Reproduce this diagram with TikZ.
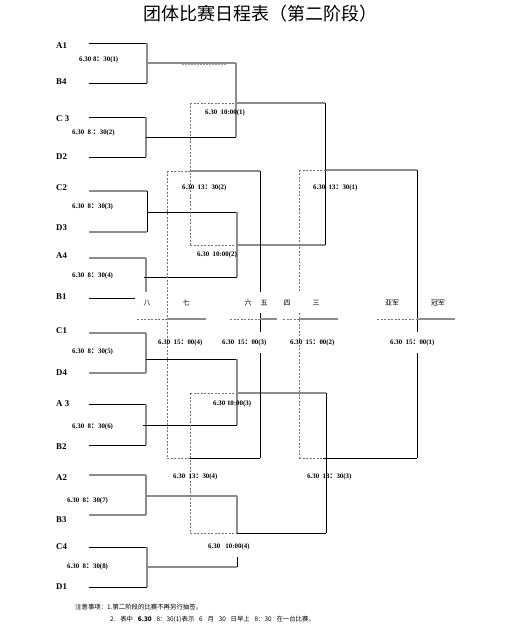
\documentclass[tikz,border=0pt]{standalone}
\usepackage{fontspec}
\setmainfont{Liberation Serif}
\newfontfamily\cjk{Noto Sans CJK SC}
\newcommand{\fwc}{{\cjk ：}}
\newcommand{\wsp}{\hspace{0.75em}}
\begin{document}
\begin{tikzpicture}[x=1pt,y=-1pt,
  gl/.style={draw=black!45, line width=1.1pt},
  bl/.style={draw=black, line width=0.7pt},
  dl/.style={draw=black!55, dash pattern=on 2pt off 1.5pt, line width=0.7pt},
  team/.style={font=\bfseries\fontsize{8.8}{9}\selectfont, anchor=west, inner sep=0},
  mt/.style={font=\bfseries\fontsize{6.9}{7}\selectfont, anchor=west, inner sep=0},
  rk/.style={font=\cjk\fontsize{7}{8}\selectfont, inner sep=0},
  note/.style={font=\cjk\fontsize{6.4}{7}\selectfont, anchor=west, inner sep=0}]
\useasboundingbox (0,0) rectangle (516,636);
\fill[white] (0,0) rectangle (516,636);
% title
\node[font=\cjk\fontsize{18}{20}\selectfont, inner sep=0] (title) at (260,14) {团体比赛日程表（第二阶段）};
% teams
\node[team] (tA1) at (56,46) {A1};
\node[team] (tB4) at (56,82) {B4};
\node[team] (tC3) at (56,119) {C 3};
\node[team] (tD2) at (56,157) {D2};
\node[team] (tC2) at (56,188) {C2};
\node[team] (tD3) at (56,228) {D3};
\node[team] (tA4) at (56,256) {A4};
\node[team] (tB1) at (56,297) {B1};
\node[team] (tC1) at (56,331) {C1};
\node[team] (tD4) at (56,373) {D4};
\node[team] (tA3) at (56,404) {A 3};
\node[team] (tB2) at (56,447) {B2};
\node[team] (tA2) at (56,478) {A2};
\node[team] (tB3) at (56,520) {B3};
\node[team] (tC4) at (56,547) {C4};
\node[team] (tD1) at (56,587) {D1};
% first round
\draw[bl] (89,43)--(147,43); \draw[bl] (89,83)--(147,83);
\draw[gl] (147,43)--(147,83); \draw[gl] (147,63)--(236,63);
\draw[bl] (89,117)--(146,117); \draw[bl] (89,157)--(146,157);
\draw[gl] (146,117)--(146,157); \draw[bl] (146,137)--(236,137);
\draw[gl] (236,63)--(236,137);
\draw[draw=black!40, dash pattern=on 2pt off 1pt, line width=0.5pt] (182,64)--(227,64);
\draw[gl] (89,191)--(147,191); \draw[gl] (89,232)--(147,232);
\draw[bl] (147,191)--(147,232); \draw[bl] (147,212)--(237,212);
\draw[gl] (89,258)--(146,258); \draw[gl] (146,258)--(146,292);
\draw[bl] (89,298)--(135,298); \draw[bl] (144,277)--(237,277);
\draw[gl] (237,212)--(237,277);
\draw[gl] (89,333)--(146,333); \draw[gl] (89,373)--(146,373);
\draw[gl] (146,333)--(146,373); \draw[bl] (146,359)--(237,359);
\draw[bl] (89,404)--(146,404); \draw[bl] (89,445)--(146,445);
\draw[gl] (146,404)--(146,445); \draw[bl] (143,425)--(237,425);
\draw[gl] (237,359)--(237,425);
\draw[gl] (89,475)--(146,475); \draw[gl] (89,515)--(146,515);
\draw[gl] (146,475)--(146,515); \draw[gl] (146,496)--(237,496);
\draw[gl] (237,496)--(237,533);
\draw[bl] (89,547)--(147,547); \draw[bl] (89,587)--(147,587);
\draw[gl] (147,547)--(147,587); \draw[gl] (147,567)--(237,567);
\draw[bl] (237,557)--(237,567);
% second round
\draw[dl] (190,103)--(236,103); \draw[gl] (236,103)--(325,103);
\draw[dl] (190,245)--(237,245); \draw[gl] (237,245)--(325,245);
\draw[dl] (190,103)--(190,245);
\draw[bl] (325,103)--(325,245);
\draw[dl] (190,393)--(237,393); \draw[gl] (237,393)--(326,393);
\draw[dl] (190,533)--(237,533); \draw[bl] (237,533)--(326,533);
\draw[dl] (190,393)--(190,533);
\draw[bl] (326,393)--(326,533);
% semifinals and placings
\draw[dl] (299,170)--(326,170); \draw[gl] (326,170)--(417,170);
\draw[dl] (167,171)--(190,171); \draw[gl] (190,171)--(260,171);
\draw[dl] (167,458)--(190,458); \draw[bl] (190,458)--(260,458);
\draw[dl] (299,458)--(323,458); \draw[bl] (323,458)--(417,458);
\draw[bl] (260,171)--(260,292); \draw[bl] (260,313)--(260,332); \draw[bl] (260,353)--(260,458);
\draw[dl] (167,171)--(167,458);
\draw[dl] (299,170)--(299,292); \draw[dl] (299,313)--(299,458);
\draw[bl] (417,170)--(417,332); \draw[bl] (417,353)--(417,458);
% finals row
\draw[dl] (137,319)--(167,319); \draw[gl] (167,319)--(206,319);
\draw[dl] (230,319)--(260,319); \draw[gl] (260,319)--(277,319);
\draw[dl] (283,319)--(299,319); \draw[gl] (299,319)--(338,319);
\draw[dl] (377,319)--(417,319); \draw[gl] (417,319)--(455,319);
% rank labels
\node[rk] (r8) at (147,303) {八};
\node[rk] (r7) at (186,303) {七};
\node[rk] (r6) at (248,303) {六};
\node[rk] (r5) at (264,303) {五};
\node[rk] (r4) at (287,303) {四};
\node[rk] (r3) at (316,303) {三};
\node[rk] (r2) at (392,303) {亚军};
\node[rk] (r1) at (438,303) {冠军};
% match labels
\node[mt] (m1) at (79,60) {6.30 8\fwc30(1)};
\node[mt] (m2) at (72,133) {6.30\enspace 8 \fwc30(2)};
\node[mt] (m3) at (72,207) {6.30\enspace 8\fwc30(3)};
\node[mt] (m4) at (72,276) {6.30\enspace 8\fwc30(4)};
\node[mt] (m5) at (72,352) {6.30\enspace 8\fwc30(5)};
\node[mt] (m6) at (72,427) {6.30\enspace 8\fwc30(6)};
\node[mt] (m7) at (67,501) {6.30\enspace 8\fwc30(7)};
\node[mt] (m8) at (67,567) {6.30\enspace 8\fwc30(8)};
\node[mt] (q1) at (205,113) {6.30\enspace 10:00(1)};
\node[mt] (q2) at (197,255) {6.30\enspace 10:00(2)};
\node[mt] (q3) at (213,404) {6.30 10:00(3)};
\node[mt] (q4) at (208,547) {6.30\enspace\ 10:00(4)};
\node[mt] (s2) at (182,188) {6.30\enspace 13\fwc30(2)};
\node[mt] (s1) at (313,188) {6.30\enspace 13\fwc30(1)};
\node[mt] (s4) at (173,477) {6.30\enspace 13\fwc30(4)};
\node[mt] (s3) at (307,477) {6.30\enspace 13\fwc30(3)};
\node[mt] (f4) at (158,343) {6.30\enspace 15\fwc00(4)};
\node[mt] (f3) at (222,343) {6.30\enspace 15\fwc00(3)};
\node[mt] (f2) at (290,343) {6.30\enspace 15\fwc00(2)};
\node[mt] (f1) at (390,343) {6.30\enspace 15\fwc00(1)};
% notes
\node[note] (n1) at (75,607) {注意事项：1.第二阶段的比赛不再另行抽签。};
\node[note] (n2) at (110,619) {2.\wsp 表中\wsp {\bfseries 6.30}\wsp 8：30(1)表示\wsp 6\wsp 月\wsp 30\wsp 日早上\wsp 8：30\wsp 在一台比赛。};
\end{tikzpicture}
\end{document}
